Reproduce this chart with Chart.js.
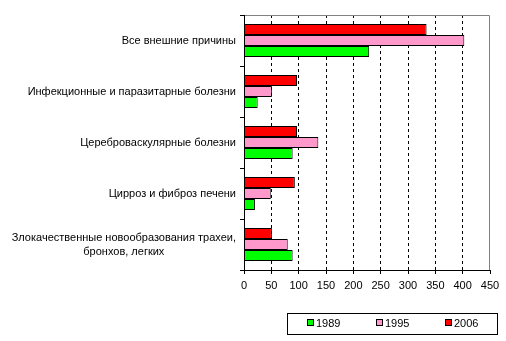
<!DOCTYPE html>
<html>
<head>
<meta charset="utf-8">
<script src="https://cdn.jsdelivr.net/npm/chart.js@4/dist/chart.umd.min.js"></script>
<style>
  html, body { margin: 0; padding: 0; background: #fff; }
  #wrap { width: 506px; height: 341px; }
</style>
</head>
<body>
<div id="wrap"><canvas id="causesChart"></canvas></div>
<script>
// categories, top to bottom
const categories = [
    "Все внешние причины",
    "Инфекционные и паразитарные болезни",
    "Цереброваскулярные болезни",
    "Цирроз и фиброз печени",
    ["Злокачественные новообразования трахеи,", "бронхов, легких"]
];

const years = ["1989", "1995", "2006"];

const values1989 = [229, 25, 89, 20, 89];
const values1995 = [403, 51, 136, 49, 80];
const values2006 = [334, 97, 97, 93, 51];

const xTicks = [0, 50, 100, 150, 200, 250, 300, 350, 400, 450];

const FONT = "'Liberation Sans', Arial, sans-serif";

// draws axis frame, y labels and the boxed legend
const excelLook = {
    id: "excelLook",
    afterDraw(chart) {
        const ctx = chart.ctx;
        const a = chart.chartArea;
        const yScale = chart.scales.y;

        ctx.save();
        ctx.lineWidth = 1;

        // gray top and right edge
        ctx.strokeStyle = "#808080";
        ctx.beginPath();
        ctx.moveTo(a.left, a.top + 0.5);
        ctx.lineTo(a.right - 0.5, a.top + 0.5);
        ctx.lineTo(a.right - 0.5, a.bottom);
        ctx.stroke();

        // black axes
        ctx.strokeStyle = "#000";
        ctx.beginPath();
        ctx.moveTo(a.left + 0.5, a.top);
        ctx.lineTo(a.left + 0.5, a.bottom + 0.5);
        ctx.lineTo(a.right, a.bottom + 0.5);
        ctx.stroke();

        // category labels
        ctx.fillStyle = "#000";
        ctx.font = "11px " + FONT;
        ctx.textBaseline = "middle";
        const rightX = a.left - 8;
        categories.forEach((label, i) => {
            const cy = yScale.getPixelForTick(i);
            if (Array.isArray(label)) {
                const w = Math.max(...label.map(t => ctx.measureText(t).width));
                const cx = rightX - w / 2;
                ctx.textAlign = "center";
                label.forEach((t, j) => {
                    ctx.fillText(t, cx, cy + (j - (label.length - 1) / 2) * 14);
                });
            } else {
                ctx.textAlign = "right";
                ctx.fillText(label, rightX, cy);
            }
        });

        // legend
        ctx.strokeRect(287.5, 313.5, 210, 21);
        const order = chart.data.datasets.slice().reverse();
        order.forEach((ds, i) => {
            const x = 307 + i * 69;
            ctx.fillStyle = ds.backgroundColor;
            ctx.fillRect(x, 320, 6, 6);
            ctx.strokeStyle = "#000";
            ctx.strokeRect(x + 0.5, 319.5, 6, 6);
            ctx.fillStyle = "#000";
            ctx.textAlign = "left";
            ctx.fillText(ds.label, x + 9, 323.5);
        });

        ctx.restore();
    }
};

new Chart(document.getElementById("causesChart"), {
    type: "bar",
    data: {
        labels: categories,
        datasets: [
            {
                label: years[2],
                data: values2006,
                backgroundColor: "#ff0000"
            },
            {
                label: years[1],
                data: values1995,
                backgroundColor: "#ff99cc"
            },
            {
                label: years[0],
                data: values1989,
                backgroundColor: "#00ff00"
            }
        ]
    },
    options: {
        indexAxis: "y",
        responsive: true,
        maintainAspectRatio: false,
        animation: false,
        layout: {
            padding: { left: 4, right: 16, top: 15, bottom: 51 }
        },
        datasets: {
            bar: {
                borderColor: "#000",
                borderWidth: 1,
                barPercentage: 1,
                categoryPercentage: 0.65
            }
        },
        plugins: {
            legend: { display: false },
            tooltip: { enabled: false }
        },
        scales: {
            x: {
                min: 0,
                max: 450,
                afterBuildTicks: (s) => {
                    s.ticks = xTicks.map(v => ({ value: v }));
                },
                afterFit: (s) => { s.height = 20; },
                border: { display: false, dash: [3, 3] },
                grid: {
                    color: (c) => (c.tick && (c.tick.value === 0 || c.tick.value === 450)) ? "rgba(0,0,0,0)" : "#000",
                    tickColor: "#000",
                    tickLength: 4,
                    tickBorderDash: []
                },
                ticks: {
                    color: "#000",
                    padding: 5,
                    maxRotation: 0,
                    font: { family: FONT, size: 11 }
                }
            },
            y: {
                afterFit: (s) => { s.width = 240; },
                border: { display: false },
                grid: {
                    offset: true,
                    drawOnChartArea: false,
                    tickColor: "#000",
                    tickLength: 4
                },
                ticks: { display: false }
            }
        }
    },
    plugins: [excelLook]
});
</script>
</body>
</html>
